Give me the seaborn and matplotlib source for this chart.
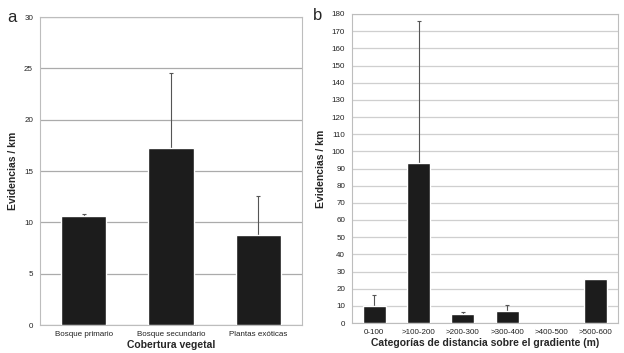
import matplotlib
matplotlib.use('Agg')
import matplotlib.pyplot as plt
import seaborn as sns
import pandas as pd
import numpy as np

# Panel a: vegetation cover
cobertura = ['Bosque primario', 'Bosque secundario', 'Plantas exóticas']
cob_mean = [10.6, 17.2, 8.8]
cob_err = [0.2, 7.3, 3.8]

# Panel b: distance categories along gradient
distancia = ['0-100', '>100-200', '>200-300', '>300-400', '>400-500', '>500-600']
dist_mean = [10.0, 93.0, 5.0, 7.0, 0.0, 25.5]
dist_err = [6.5, 83.0, 1.2, 3.5, 0.0, 0.0]

sns.set_style('white')
plt.rcParams['font.family'] = ['Liberation Sans', 'DejaVu Sans']

fig = plt.figure(figsize=(6.24, 3.53), dpi=100)
ax_a = fig.add_axes([40 / 624, 28 / 353, 262 / 624, 308 / 353])
ax_b = fig.add_axes([352 / 624, 30 / 353, 266 / 624, 309 / 353])

bar_color = '#1c1c1c'


def draw_panel(ax, cats, means, errs, ymax, ystep, grid_color, xlabel):
    df = pd.DataFrame({'cat': cats, 'val': means})
    sns.barplot(data=df, x='cat', y='val', ax=ax, color=bar_color,
                width=0.52, errorbar=None, saturation=1, zorder=3)
    x = np.arange(len(cats))
    errs = np.array(errs)
    keep = errs > 0
    # upward-only error bars; lower cap hides behind the bar
    ax.errorbar(x[keep], np.array(means)[keep],
                yerr=[np.zeros(keep.sum()), errs[keep]],
                fmt='none', ecolor='#555555', elinewidth=0.8,
                capsize=1.5, capthick=0.8, zorder=2.5)
    ax.set_xlim(-0.5, len(cats) - 0.5)
    ax.set_ylim(0, ymax)
    ax.set_yticks(np.arange(0, ymax + 0.1, ystep))
    ax.yaxis.grid(True, color=grid_color, linewidth=0.9, zorder=0)
    ax.set_axisbelow(True)
    for s in ax.spines.values():
        s.set_color('#bdbdbd')
        s.set_linewidth(0.8)
    ax.set_xticks(x)
    ax.set_xticks(np.arange(-0.5, len(cats)), minor=True)
    ax.tick_params(axis='x', which='major', length=0, labelsize=5.8, pad=4,
                   labelcolor='#222222')
    ax.tick_params(axis='x', which='minor', length=3, color='#999999',
                   direction='out')
    ax.tick_params(axis='y', length=3, color='#999999', direction='out',
                   labelsize=5.8, pad=2, labelcolor='#222222')
    ax.set_xlabel(xlabel, fontsize=7.5, fontweight='bold', labelpad=2)
    ax.set_ylabel('Evidencias / km', fontsize=7.5, fontweight='bold',
                  labelpad=4)


draw_panel(ax_a, cobertura, cob_mean, cob_err, 30, 5, '#ababab',
           'Cobertura vegetal')
draw_panel(ax_b, distancia, dist_mean, dist_err, 180, 10, '#cfcfcf',
           'Categorías de distancia sobre el gradiente (m)')

fig.text(12 / 624, 1 - 18 / 353, 'a', fontsize=12, ha='center', va='center')
fig.text(318 / 624, 1 - 15 / 353, 'b', fontsize=12, ha='center', va='center')

fig.savefig('out.png', dpi=100)
